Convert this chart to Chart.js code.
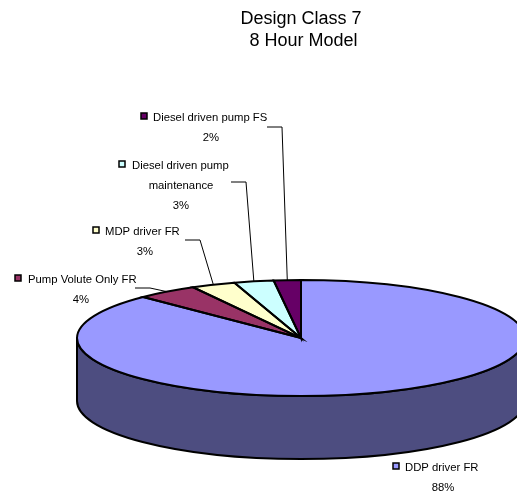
<!DOCTYPE html>
<html lang="en">
<head>
    <meta charset="UTF-8">
    <title>Design Class 7 - 8 Hour Model</title>
    <script src="https://cdn.jsdelivr.net/npm/chart.js@4"></script>
    <style>
        html, body { margin: 0; padding: 0; background: #fff; overflow: hidden; }
        canvas { display: block; }
    </style>
</head>
<body>
    <canvas id="pieChart" width="517" height="496"></canvas>

    <script>
        // Data, clockwise from 12 o'clock
        const categories = ['DDP driver FR', 'Pump Volute Only FR', 'MDP driver FR', 'Diesel driven pump maintenance', 'Diesel driven pump FS'];
        const values = [87.55, 4.45, 3.2, 2.85, 1.95];
        const colors = ['#9999FF', '#993366', '#FFFFCC', '#CCFFFF', '#660066'];
        const sideColors = ['#4D4D80', '#4D1A33', '#808066', '#668080', '#330033'];
        const titleLines = ['Design Class 7', ' 8 Hour Model'];

        // Fake 3D settings
        const RADIUS = 224;
        const TILT = 58 / 224;
        const DEPTH = 63;

        // Where each data label sits; leader runs through `elbow` to the slice edge
        const labelLayout = [
            { box: 396, text: 405, y: 467, center: 443, lines: ['DDP driver FR'], leader: null },
            { box: 18, text: 28, y: 279, center: 81, lines: ['Pump Volute Only FR'], leader: [[135, 288], [150, 288]] },
            { box: 96, text: 105, y: 231, center: 145, lines: ['MDP driver FR'], leader: [[185, 240], [200, 240]] },
            { box: 122, text: 132, y: 165, center: 181, lines: ['Diesel driven pump', 'maintenance'], leader: [[231, 182], [246, 182]] },
            { box: 144, text: 153, y: 117, center: 211, lines: ['Diesel driven pump FS'], leader: [[267, 127], [282, 127]] }
        ];

        // Squashes the flat pie into an ellipse and adds the side wall
        const pie3d = {
            id: 'pie3d',
            beforeDatasetsDraw(chart) {
                const ctx = chart.ctx;
                const arcs = chart.getDatasetMeta(0).data;
                ctx.save();
                arcs.forEach((arc, i) => {
                    const p = arc.getProps(['x', 'y', 'startAngle', 'endAngle', 'outerRadius']);
                    const a0 = Math.max(p.startAngle, 0);
                    const a1 = Math.min(p.endAngle, Math.PI);
                    if (a1 <= a0) return;
                    const ry = p.outerRadius * TILT;
                    ctx.beginPath();
                    ctx.ellipse(p.x, p.y, p.outerRadius, ry, 0, a0, a1);
                    ctx.ellipse(p.x, p.y + DEPTH, p.outerRadius, ry, 0, a1, a0, true);
                    ctx.closePath();
                    ctx.fillStyle = sideColors[i];
                    ctx.fill();
                    ctx.lineWidth = 2;
                    ctx.strokeStyle = '#000';
                    ctx.stroke();
                });
                ctx.restore();

                const first = arcs[0];
                ctx.save();
                ctx.translate(first.x, first.y);
                ctx.scale(1, TILT);
                ctx.translate(-first.x, -first.y);
            },
            afterDatasetsDraw(chart) {
                const ctx = chart.ctx;
                ctx.restore(); // back to normal pixels, so outlines stay even

                const arcs = chart.getDatasetMeta(0).data;
                const total = values.reduce((a, b) => a + b, 0);

                ctx.save();
                ctx.strokeStyle = '#000';
                arcs.forEach(arc => {
                    const p = arc.getProps(['x', 'y', 'startAngle', 'endAngle', 'outerRadius']);
                    ctx.beginPath();
                    ctx.moveTo(p.x, p.y);
                    ctx.ellipse(p.x, p.y, p.outerRadius, p.outerRadius * TILT, 0, p.startAngle, p.endAngle);
                    ctx.closePath();
                    ctx.lineWidth = 2;
                    ctx.stroke();
                });

                // Data labels with swatch and leader line
                ctx.font = '11.3px "Liberation Sans", Arial, sans-serif';
                ctx.textBaseline = 'middle';
                labelLayout.forEach((lab, i) => {
                    const boxSize = 6;
                    ctx.fillStyle = colors[i];
                    ctx.lineWidth = 1.5;
                    ctx.fillRect(lab.box - boxSize / 2, lab.y - 1 - boxSize / 2, boxSize, boxSize);
                    ctx.strokeRect(lab.box - boxSize / 2, lab.y - 1 - boxSize / 2, boxSize, boxSize);

                    ctx.fillStyle = '#000';
                    ctx.textAlign = 'left';
                    ctx.fillText(lab.lines[0], lab.text, lab.y + 1);
                    ctx.textAlign = 'center';
                    lab.lines.slice(1).forEach((line, n) => {
                        ctx.fillText(line, lab.center, lab.y + 1 + 20 * (n + 1));
                    });
                    const pct = Math.round(values[i] / total * 100) + '%';
                    ctx.fillText(pct, lab.center, lab.y + 1 + 20 * lab.lines.length);

                    if (lab.leader) {
                        const p = arcs[i].getProps(['x', 'y', 'startAngle', 'endAngle', 'outerRadius']);
                        const mid = (p.startAngle + p.endAngle) / 2;
                        ctx.beginPath();
                        ctx.moveTo(lab.leader[0][0], lab.leader[0][1]);
                        ctx.lineTo(lab.leader[1][0], lab.leader[1][1]);
                        ctx.lineTo(p.x + p.outerRadius * Math.cos(mid), p.y + p.outerRadius * TILT * Math.sin(mid));
                        ctx.lineWidth = 1;
                        ctx.stroke();
                    }
                });
                ctx.restore();
            }
        };

        new Chart(document.getElementById('pieChart').getContext('2d'), {
            type: 'pie',
            data: {
                labels: categories,
                datasets: [{
                    data: values,
                    backgroundColor: colors,
                    borderWidth: 0,
                    radius: RADIUS,
                    clip: false
                }]
            },
            options: {
                responsive: false,
                animation: false,
                layout: { padding: { left: 85 } },
                plugins: {
                    legend: { display: false },
                    tooltip: { enabled: false },
                    title: {
                        display: true,
                        text: titleLines,
                        color: '#000',
                        font: { family: '"Liberation Sans", Arial, sans-serif', size: 18, weight: 'normal', lineHeight: 1.17 },
                        padding: { top: 9, bottom: 129 }
                    }
                }
            },
            plugins: [pie3d]
        });
    </script>
</body>
</html>
